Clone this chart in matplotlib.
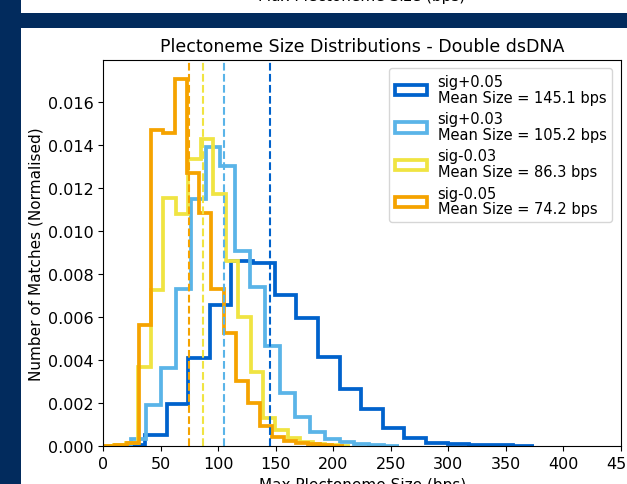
import numpy as np
import matplotlib
matplotlib.use("Agg")
import matplotlib.pyplot as plt
from matplotlib.patches import Rectangle

# ---------------- data ----------------
labels = ["sig+0.05", "sig+0.03", "sig-0.03", "sig-0.05"]
mean_sizes = [145.1, 105.2, 86.3, 74.2]

# histogram ranges (min, max of each data set; 20 bins each)
range_p05 = (-1.4, 374.6)
range_p03 = (-1.7, 257.1)
range_m03 = (-1.9, 214.6)
range_m05 = (0.0, 209.0)

# normalised bin heights (density)
dens_p05 = [0.00002, 0.00004, 0.00053, 0.00198, 0.00408, 0.00656, 0.00860, 0.00850,
            0.00704, 0.00594, 0.00417, 0.00268, 0.00172, 0.00087, 0.00040, 0.00015,
            0.00010, 0.00008, 0.00004, 0.00003]
dens_p03 = [0.00002, 0.00005, 0.00033, 0.00190, 0.00365, 0.00730, 0.01147, 0.01390,
            0.01300, 0.00908, 0.00738, 0.00467, 0.00248, 0.00135, 0.00067, 0.00033,
            0.00020, 0.00010, 0.00006, 0.00003]
dens_m03 = [0.00002, 0.00005, 0.00015, 0.00370, 0.00727, 0.01152, 0.01079, 0.01335,
            0.01428, 0.01172, 0.00862, 0.00603, 0.00343, 0.00130, 0.00075, 0.00040,
            0.00020, 0.00010, 0.00006, 0.00003]
dens_m05 = [0.00003, 0.00005, 0.00014, 0.00564, 0.01471, 0.01456, 0.01707, 0.01268,
            0.01084, 0.00730, 0.00526, 0.00304, 0.00203, 0.00094, 0.00045, 0.00025,
            0.00014, 0.00010, 0.00005, 0.00003]

ranges = [range_p05, range_p03, range_m03, range_m05]
densities = [dens_p05, dens_p03, dens_m03, dens_m05]
colors = ["#0062CC", "#5AB4E8", "#F0E442", "#F5A300"]

x_ticks = [0, 50, 100, 150, 200, 250, 300, 350, 400, 450]
y_ticks = [0.000, 0.002, 0.004, 0.006, 0.008, 0.010, 0.012, 0.014, 0.016]

# ---------------- figure ----------------
W, H = 627, 485
navy = "#022b5d"
fig = plt.figure(figsize=(W / 100, H / 100), dpi=100, facecolor=navy)

# white panels (slide look)
fig.patches.append(Rectangle((20.5 / W, 0), 1, (H - 29) / H, transform=fig.transFigure,
                             facecolor="white", edgecolor="none", zorder=-5))
fig.patches.append(Rectangle((20.5 / W, 1 - 14 / H), 1, 14 / H, transform=fig.transFigure,
                             facecolor="white", edgecolor="none", zorder=-5))
fig.text(362 / W, 1 - 1.5 / H, "Max Plectoneme Size (bps)", ha="center", va="baseline",
         fontsize=11, color="black", zorder=5)

ax = fig.add_axes([103.3 / W, 1 - 447.3 / H, (621 - 103.3) / W, (447.3 - 60.5) / H])
ax.set_zorder(2)

for lab, m, rng, dens, c in zip(labels, mean_sizes, ranges, densities, colors):
    edges = np.linspace(rng[0], rng[1], len(dens) + 1)
    ax.hist(edges[:-1], bins=edges, weights=dens, histtype="step", lw=2.7, color=c,
            label=f"{lab}\nMean Size = {m} bps")

for m, c in zip(mean_sizes, colors):
    ax.axvline(m, color=c, ls="--", lw=1.5)

ax.set_xlim(0, 450)
ax.set_ylim(0, 0.01797)
ax.set_xticks(x_ticks)
ax.set_yticks(y_ticks)
ax.tick_params(labelsize=11.5)
ax.set_title("Plectoneme Size Distributions - Double dsDNA", fontsize=12.5, pad=6)
ax.set_xlabel("Max Plectoneme Size (bps)", fontsize=11)
ax.set_ylabel("Number of Matches (Normalised)", fontsize=11, labelpad=3)
leg = ax.legend(loc="upper right", fontsize=10.5, handlelength=2.2, borderaxespad=0.6,
                labelspacing=0.45, handletextpad=0.7)
for t in leg.get_texts():
    t.set_linespacing(1.05)

fig.savefig("out.png", dpi=100, facecolor=navy)
